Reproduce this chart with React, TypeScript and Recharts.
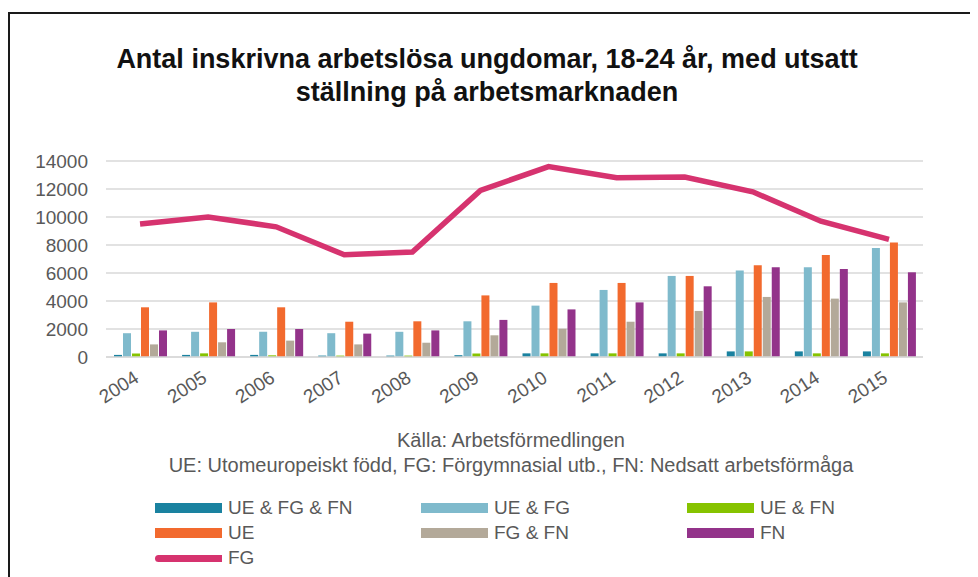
import React from 'react';
import { ComposedChart, Bar, Line, XAxis, YAxis, CartesianGrid } from 'recharts';

const years = ['2004', '2005', '2006', '2007', '2008', '2009', '2010', '2011', '2012', '2013', '2014', '2015'];
const ueFgFn = [150, 150, 150, 100, 100, 130, 260, 260, 260, 400, 400, 400];
const ueFg = [1700, 1800, 1800, 1700, 1800, 2550, 3670, 4790, 5790, 6170, 6410, 7790];
const ueFn = [250, 260, 120, 100, 100, 250, 260, 260, 260, 400, 260, 260];
const ue = [3550, 3900, 3550, 2520, 2550, 4400, 5290, 5290, 5790, 6550, 7290, 8170];
const fgFn = [900, 1050, 1170, 900, 1020, 1550, 2020, 2520, 3290, 4290, 4170, 3900];
const fn = [1900, 2000, 2000, 1670, 1900, 2650, 3400, 3900, 5050, 6410, 6290, 6050];
const fg = [9500, 10000, 9300, 7300, 7500, 11900, 13600, 12800, 12850, 11800, 9700, 8400];
const yTicks = [0, 2000, 4000, 6000, 8000, 10000, 12000, 14000];

const bars = [
  { key: 'ueFgFn', name: 'UE & FG & FN', color: '#1a82a0' },
  { key: 'ueFg', name: 'UE & FG', color: '#7fbacc' },
  { key: 'ueFn', name: 'UE & FN', color: '#86c300' },
  { key: 'ue', name: 'UE', color: '#f26a2e' },
  { key: 'fgFn', name: 'FG & FN', color: '#b3a999' },
  { key: 'fn', name: 'FN', color: '#93338a' },
];
const lineSeries = { key: 'fg', name: 'FG', color: '#d6336f' };

const data = years.map((year, i) => ({
  year,
  ueFgFn: ueFgFn[i],
  ueFg: ueFg[i],
  ueFn: ueFn[i],
  ue: ue[i],
  fgFn: fgFn[i],
  fn: fn[i],
  fg: fg[i],
}));

const font = '"Liberation Sans", Arial, sans-serif';
const gray = '#595959';

const YearTick = (props: any) => {
  const { x, y, payload } = props;
  return (
    <g transform={`translate(${x},${y + 16})`}>
      <text x={0} y={0} textAnchor="end" fill={gray} fontSize={19} fontFamily={font} transform="rotate(-33)">
        {payload.value}
      </text>
    </g>
  );
};

const legendItems = [...bars.map((b) => ({ ...b, line: false })), { ...lineSeries, line: true }];

export default function App() {
  return (
    <div style={{ position: 'relative', width: 970, height: 569, overflow: 'hidden', fontFamily: font }}>
      <div
        style={{
          position: 'absolute',
          left: 0,
          top: 4,
          width: 980,
          height: 580,
          borderLeft: '2px solid #1a1a1a',
          borderTop: '2px solid #1a1a1a',
        }}
      />
      <div
        style={{
          position: 'absolute',
          left: 0,
          top: 35,
          width: 958,
          textAlign: 'center',
          fontSize: 27,
          lineHeight: '33px',
          fontWeight: 'bold',
          color: '#111',
        }}
      >
        Antal inskrivna arbetslösa ungdomar, 18-24 år, med utsatt
        <br />
        ställning på arbetsmarknaden
      </div>
      <div style={{ position: 'absolute', left: 0, top: 0 }}>
        <ComposedChart width={970} height={430} data={data} margin={{ top: 153, right: 55, left: 0, bottom: 30 }} barGap={1}>
          <CartesianGrid vertical={false} stroke="#d9d9d9" strokeWidth={1.5} />
          <XAxis
            dataKey="year"
            interval={0}
            height={51}
            axisLine={{ stroke: '#d9d9d9', strokeWidth: 1.5 }}
            tickLine={false}
            tick={<YearTick />}
          />
          <YAxis
            width={98}
            domain={[0, 14000]}
            ticks={yTicks}
            axisLine={false}
            tickLine={false}
            tickMargin={12}
            tick={{ fill: gray, fontSize: 19, fontFamily: font }}
          />
          {bars.map((b) => (
            <Bar key={b.key} dataKey={b.key} name={b.name} fill={b.color} barSize={8} isAnimationActive={false} />
          ))}
          <Line
            type="linear"
            dataKey={lineSeries.key}
            name={lineSeries.name}
            stroke={lineSeries.color}
            strokeWidth={5.5}
            dot={false}
            isAnimationActive={false}
          />
        </ComposedChart>
      </div>
      <div
        style={{
          position: 'absolute',
          left: 103,
          top: 420,
          width: 800,
          textAlign: 'center',
          fontSize: 20,
          lineHeight: '25px',
          color: gray,
        }}
      >
        Källa: Arbetsförmedlingen
        <br />
        UE: Utomeuropeiskt född, FG: Förgymnasial utb., FN: Nedsatt arbetsförmåga
      </div>
      {legendItems.map((item, i) => {
        const col = i % 3;
        const row = Math.floor(i / 3);
        return (
          <div
            key={item.key}
            style={{
              position: 'absolute',
              left: 147 + col * 266,
              top: 488 + row * 25,
              height: 24,
              display: 'flex',
              alignItems: 'center',
              fontSize: 19,
              color: gray,
              whiteSpace: 'nowrap',
            }}
          >
            <span
              style={{
                display: 'inline-block',
                width: 67,
                height: item.line ? 7 : 10,
                background: item.color,
                borderRadius: item.line ? '4px 0 0 4px' : 0,
                marginRight: 6,
              }}
            />
            {item.name}
          </div>
        );
      })}
    </div>
  );
}
